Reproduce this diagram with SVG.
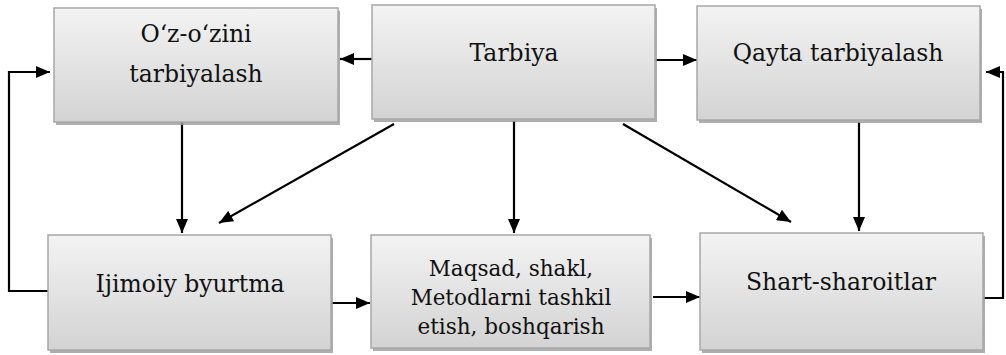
<svg xmlns="http://www.w3.org/2000/svg" width="1006" height="355" viewBox="0 0 1006 355">
<style>
.box{fill:url(#g);stroke:#a8a8a8;stroke-width:1.5}
.sh{fill:#9a9a9a;opacity:0.8}
text{font-family:'DejaVu Serif',serif;font-size:23.5px;fill:#111;text-anchor:middle}
text.s{font-size:21.5px}
.a{stroke:#000;stroke-width:2.2;fill:none;marker-end:url(#ah)}
</style>
<defs>
<linearGradient id="g" x1="0" y1="0" x2="0" y2="1">
<stop offset="0" stop-color="#f3f3f3"/>
<stop offset="1" stop-color="#d3d3d3"/>
</linearGradient>
<marker id="ah" viewBox="0 0 14 12" refX="14" refY="6" markerWidth="14" markerHeight="12" markerUnits="userSpaceOnUse" orient="auto">
<path d="M0,0 L14,6 L0,12 Z" fill="#000"/>
</marker>
</defs>
<g id="connectors">
<line class="a" x1="372" y1="59" x2="340" y2="59"/>
<line class="a" x1="655" y1="60" x2="697" y2="60"/>
<line class="a" x1="182" y1="122" x2="182" y2="233"/>
<line class="a" x1="394" y1="124" x2="219" y2="223"/>
<line class="a" x1="514" y1="121" x2="514" y2="233"/>
<line class="a" x1="623" y1="124" x2="791" y2="222"/>
<line class="a" x1="859" y1="122" x2="859" y2="231"/>
<line class="a" x1="331" y1="303" x2="370" y2="303"/>
<line class="a" x1="653" y1="297" x2="700" y2="297"/>
<polyline class="a" points="48,291 9,291 9,72 50,72"/>
<polyline class="a" points="983,298 1003,298 1003,72 986,72"/>
</g>
<g id="n1">
<rect class="sh" x="56" y="11" width="284" height="114"/>
<rect class="box" x="54" y="8" width="284" height="114"/>
<text x="196" y="42">O‘z-o‘zini</text>
<text x="196" y="82">tarbiyalash</text>
</g>
<g id="n2">
<rect class="sh" x="374" y="8" width="283" height="114"/>
<rect class="box" x="372" y="5" width="283" height="114"/>
<text x="514" y="61">Tarbiya</text>
</g>
<g id="n3">
<rect class="sh" x="699" y="9" width="283" height="114"/>
<rect class="box" x="697" y="6" width="283" height="114"/>
<text x="838" y="61">Qayta tarbiyalash</text>
</g>
<g id="n4">
<rect class="sh" x="50" y="238" width="283" height="115"/>
<rect class="box" x="48" y="235" width="283" height="115"/>
<text x="190" y="292">Ijimoiy byurtma</text>
</g>
<g id="n5">
<rect class="sh" x="373" y="238" width="279" height="113"/>
<rect class="box" x="371" y="235" width="279" height="113"/>
<text class="s" x="511" y="276">Maqsad, shakl,</text>
<text class="s" x="511" y="305">Metodlarni tashkil</text>
<text class="s" x="511" y="334">etish, boshqarish</text>
</g>
<g id="n6">
<rect class="sh" x="702" y="236" width="283" height="117"/>
<rect class="box" x="700" y="233" width="283" height="117"/>
<text x="841" y="290">Shart-sharoitlar</text>
</g>
</svg>
